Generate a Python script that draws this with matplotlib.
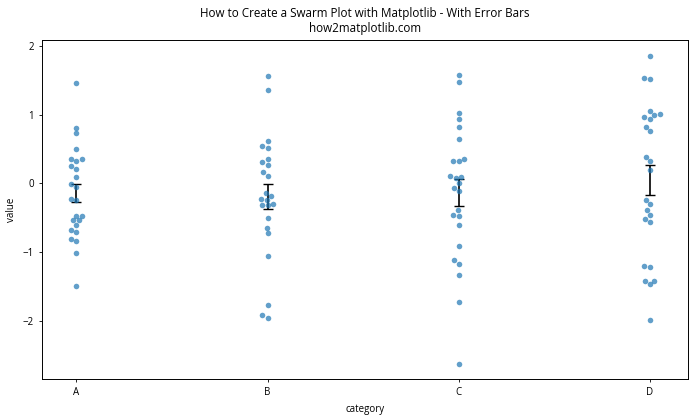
import numpy as np
import pandas as pd
import matplotlib
matplotlib.use('Agg')
import matplotlib.pyplot as plt
import seaborn as sns

categories = ['A', 'B', 'C', 'D']

vals_a = [1.46, 0.81, 0.73, 0.50, 0.35, 0.35, 0.33, 0.245, 0.21, 0.09,
          -0.01, -0.05, -0.23, -0.24, -0.47, -0.47, -0.54, -0.54, -0.61,
          -0.68, -0.71, -0.81, -0.84, -1.02, -1.49]
vals_b = [1.57, 1.36, 0.62, 0.55, 0.51, 0.35, 0.31, 0.27, 0.16, 0.11,
          -0.14, -0.18, -0.23, -0.24, -0.30, -0.31, -0.32, -0.51, -0.65,
          -0.73, -1.06, -1.78, -1.92, -1.96]
vals_c = [1.58, 1.48, 1.02, 0.93, 0.82, 0.65, 0.36, 0.33, 0.32, 0.10,
          0.09, 0.07, 0.00, -0.07, -0.11, -0.39, -0.46, -0.47, -0.61,
          -0.91, -1.12, -1.17, -1.34, -1.73, -2.64]
vals_d = [1.86, 1.54, 1.52, 1.06, 1.01, 0.99, 0.97, 0.94, 0.82, 0.76,
          0.38, 0.32, 0.20, -0.24, -0.30, -0.39, -0.46, -0.52, -0.56,
          -1.20, -1.22, -1.42, -1.43, -1.47, -1.99]

all_vals = [vals_a, vals_b, vals_c, vals_d]

df = pd.DataFrame({
  'category': [c for c, v in zip(categories, all_vals) for _ in v],
  'value': [x for v in all_vals for x in v],
})

plt.rcParams['font.family'] = ['Open Sans', 'DejaVu Sans']

fig, ax = plt.subplots(figsize=(7, 4.2), dpi=100)
sns.swarmplot(data=df, x='category', y='value', ax=ax, size=4,
              color='#1f77b4', alpha=0.7, linewidth=0, order=categories)

means = [np.mean(v) for v in all_vals]
sems = [np.std(v, ddof=1) / np.sqrt(len(v)) for v in all_vals]
ax.errorbar(range(len(categories)), means, yerr=sems, fmt='none',
            ecolor='black', elinewidth=1.2, capsize=3.5, capthick=1.0)

ax.set_xlim(-0.18, 3.2)
ax.set_ylim(-2.85, 2.09)
ax.set_title('How to Create a Swarm Plot with Matplotlib - With Error Bars\nhow2matplotlib.com',
             fontsize=8.4)
ax.set_xlabel('category', fontsize=7)
ax.set_ylabel('value', fontsize=7)
ax.tick_params(labelsize=7, length=2.5, width=0.6)
for s in ax.spines.values():
  s.set_linewidth(0.7)

plt.subplots_adjust(left=0.06, right=0.983, top=0.905, bottom=0.098)
plt.savefig('out.png', dpi=100)
